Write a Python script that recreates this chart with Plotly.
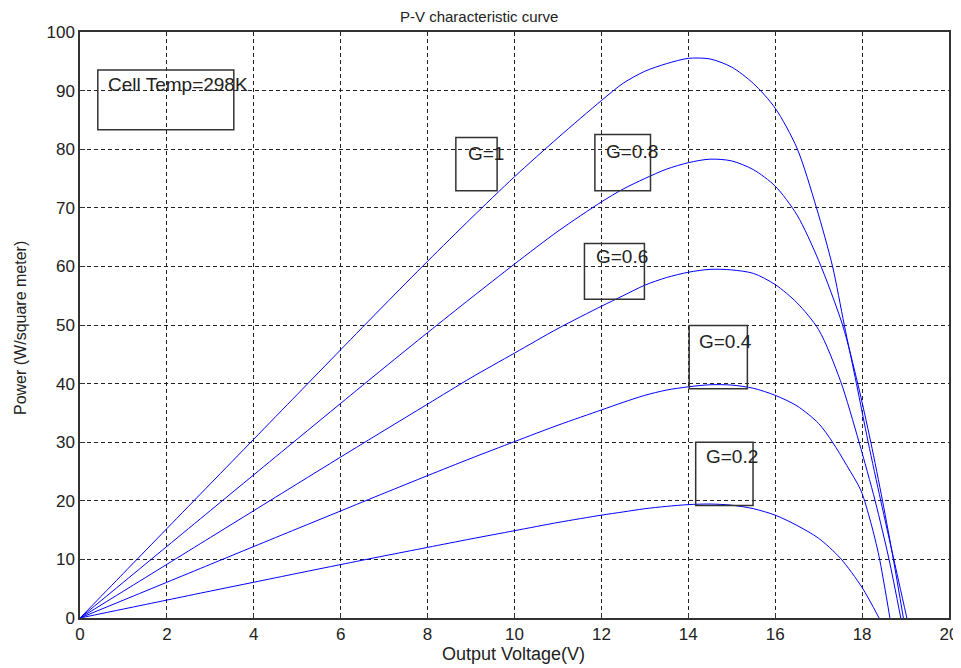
import plotly.graph_objects as go

# ---- data (V in volts, P in W) ----
v_g10 = [0, 1, 2, 3, 4, 5, 6, 7, 8, 9, 10, 11, 12, 12.5, 13, 13.5, 14, 14.5, 15, 15.5, 16, 16.5, 16.95, 17.32, 17.59, 17.87, 18.14, 18.43, 18.73, 19.03]
p_g10 = [0, 7.63, 15.26, 22.89, 30.52, 38.15, 45.78, 53.38, 60.88, 68.2, 75.3, 81.95, 88.3, 91.25, 93.3, 94.6, 95.5, 95.4, 94.0, 91.2, 87.0, 80.2, 70.0, 60.0, 50.0, 40.0, 30.0, 20.0, 10.0, 0]

v_g08 = [0, 1, 2, 3, 4, 5, 6, 7, 8, 9, 10, 11, 12, 12.5, 13, 13.5, 14, 14.5, 15, 15.5, 16, 16.5, 17, 17.55, 17.9, 18.2, 18.47, 18.72, 18.95]
p_g08 = [0, 6.11, 12.22, 18.33, 24.44, 30.54, 36.63, 42.7, 48.7, 54.6, 60.4, 66.0, 71.0, 73.2, 75.0, 76.6, 77.7, 78.3, 78.0, 76.5, 73.7, 68.8, 61.0, 50.0, 40.0, 30.0, 20.0, 10.0, 0]

v_g06 = [0, 1, 2, 3, 4, 5, 6, 7, 8, 9, 10, 11, 12, 12.5, 13, 13.5, 14, 14.5, 15, 15.5, 16, 16.5, 17, 17.5, 17.93, 18.3, 18.62, 18.89]
p_g06 = [0, 4.58, 9.16, 13.74, 18.32, 22.9, 27.47, 32.0, 36.5, 41.0, 45.2, 49.4, 53.2, 55.0, 56.8, 58.1, 59.0, 59.5, 59.4, 58.8, 56.9, 53.8, 49.2, 40.5, 30.0, 20.0, 10.0, 0]

v_g04 = [0, 1, 2, 3, 4, 5, 6, 7, 8, 9, 10, 11, 12, 12.5, 13, 13.5, 14, 14.5, 15, 15.5, 16, 16.5, 17, 17.32, 17.65, 17.97, 18.2, 18.39, 18.64]
p_g04 = [0, 3.05, 6.1, 9.15, 12.2, 15.24, 18.27, 21.3, 24.3, 27.25, 30.1, 32.9, 35.5, 36.8, 38.0, 38.9, 39.45, 39.8, 39.75, 39.2, 38.0, 36.2, 33.2, 30.0, 26.0, 21.8, 16.3, 10.5, 0]

v_g02 = [0, 1, 2, 3, 4, 5, 6, 7, 8, 9, 10, 11, 12, 12.5, 13, 13.5, 14, 14.5, 15, 15.5, 16, 16.5, 17, 17.5, 18, 18.39]
p_g02 = [0, 1.53, 3.06, 4.59, 6.1, 7.62, 9.12, 10.6, 12.05, 13.5, 14.9, 16.3, 17.55, 18.1, 18.65, 19.05, 19.35, 19.45, 19.25, 18.65, 17.55, 15.8, 13.6, 10.2, 5.2, 0]

series = [(v_g10, p_g10), (v_g08, p_g08), (v_g06, p_g06), (v_g04, p_g04), (v_g02, p_g02)]

x_ticks = [0, 2, 4, 6, 8, 10, 12, 14, 16, 18, 20]
y_ticks = [0, 10, 20, 30, 40, 50, 60, 70, 80, 90, 100]

labels = ["Cell Temp=298K", "G=1", "G=0.8", "G=0.6", "G=0.4", "G=0.2"]

# ---- figure ----
# the page body adds an 8px offset, so the figure is sized/positioned to compensate
OFF = 8
W, H = 961 - OFF, 668 - OFF
L, R, T, B = 80 - OFF, 12, 32 - OFF, 50

fig = go.Figure()
for v, p in series:
    fig.add_trace(go.Scatter(x=v, y=p, mode="lines",
                             line=dict(color="#0000ff", width=1, shape="spline", smoothing=0.8),
                             hoverinfo="skip", showlegend=False))

font_family = "Liberation Sans, Arial, sans-serif"

axis_common = dict(
    showline=True, mirror=True, linecolor="#333333", linewidth=1.5,
    showgrid=True, gridcolor="#222222", gridwidth=1, griddash="4px,3px",
    ticks="inside", ticklen=5, tickcolor="#333333",
    zeroline=False, automargin=False,
    tickfont=dict(family=font_family, size=17, color="#222222"),
)

fig.update_layout(
    width=W, height=H,
    margin=dict(l=L, r=R, t=T, b=B, pad=0, autoexpand=False),
    paper_bgcolor="white", plot_bgcolor="white",
    xaxis=dict(range=[0, 20], tickvals=x_ticks, ticktext=[str(t) for t in x_ticks], **axis_common),
    yaxis=dict(range=[0, 100], tickvals=y_ticks, ticktext=[str(t) for t in y_ticks], **axis_common),
    showlegend=False,
)

# text boxes (rectangles in data coordinates)
boxes = [
    (0.41, 83.3, 3.54, 93.5),
    (8.65, 72.9, 9.60, 82.0),
    (11.85, 72.9, 13.13, 82.5),
    (11.61, 54.4, 12.99, 63.9),
    (14.02, 39.1, 15.36, 49.9),
    (14.17, 19.2, 15.49, 30.0),
]
text_pos = [
    (0.60, 91.1),
    (8.88, 79.3),
    (12.06, 79.6),
    (11.83, 61.7),
    (14.21, 47.2),
    (14.36, 27.5),
]
for (x0, y0, x1, y1) in boxes:
    fig.add_shape(type="rect", xref="x", yref="y", x0=x0, y0=y0, x1=x1, y1=y1,
                  line=dict(color="#333333", width=1.5), fillcolor="rgba(0,0,0,0)")
for (tx, ty), lab in zip(text_pos, labels):
    fig.add_annotation(x=tx, y=ty, xref="x", yref="y", text=lab, showarrow=False,
                       xanchor="left", yanchor="middle",
                       font=dict(family=font_family, size=19, color="#222222"))

# helpers to place text by (page) pixel position
plot_w = W - L - R
plot_h = H - T - B
def px_to_paper(px, py):
    px -= OFF
    py -= OFF
    return (px - L) / plot_w, (H - B - py) / plot_h

tx_, ty_ = px_to_paper(479, 16)
fig.add_annotation(x=tx_, y=ty_, xref="paper", yref="paper", text="P-V characteristic curve",
                   showarrow=False, xanchor="center", yanchor="middle",
                   font=dict(family=font_family, size=15, color="#222222"))

xl, yl = px_to_paper(513, 654)
fig.add_annotation(x=xl, y=yl, xref="paper", yref="paper", text="Output Voltage(V)", showarrow=False,
                   xanchor="center", yanchor="middle",
                   font=dict(family=font_family, size=18, color="#222222"))
xl2, yl2 = px_to_paper(20, 328)
fig.add_annotation(x=xl2, y=yl2, xref="paper", yref="paper", text="Power (W/square meter)", showarrow=False,
                   xanchor="center", yanchor="middle", textangle=-90,
                   font=dict(family=font_family, size=16, color="#222222"))

fig.write_html("out.html")
